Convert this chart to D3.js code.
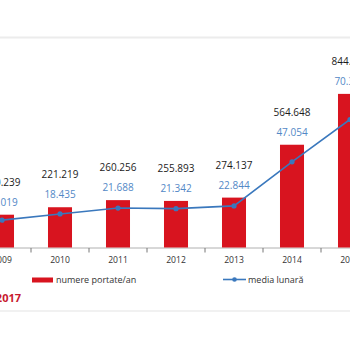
<!DOCTYPE html>
<html>
<head>
<meta charset="utf-8">
<script src="https://cdn.jsdelivr.net/npm/d3@7"></script>
<style>
  html, body { margin: 0; padding: 0; background: #fff; overflow: hidden; }
  svg { display: block; font-family: "Open Sans", sans-serif; }
</style>
</head>
<body>
<div id="chart"></div>
<script>
// dades
const years = ["2009", "2010", "2011", "2012", "2013", "2014", "2015"];
const annualLabels = ["180.239", "221.219", "260.256", "255.893", "274.137", "564.648", "844.033"];
const annualValues = [180.239, 221.219, 260.256, 255.893, 274.137, 564.648, 844.033];
const monthlyLabels = ["15.019", "18.435", "21.688", "21.342", "22.844", "47.054", "70.336"];
const monthlyValues = [15.019, 18.435, 21.688, 21.342, 22.844, 47.054, 70.336];
const legendNames = ["numere portate/an", "media lunară"];
const titleText = "2009-2017";

const data = years.map((y, i) => ({
    year: y,
    annual: annualValues[i],
    annualLabel: annualLabels[i],
    monthly: monthlyValues[i],
    monthlyLabel: monthlyLabels[i]
}));

const W = 350, H = 350;
const baseY = 247.5;

const svg = d3.select("#chart")
    .append("svg")
        .attr("width", W)
        .attr("height", H);

svg.append("rect").attr("width", W).attr("height", H).attr("fill", "#fff");

// linies grises de dalt i de baix
svg.append("line")
    .attr("x1", 0).attr("x2", W).attr("y1", 37.5).attr("y2", 37.5)
    .attr("stroke", "#ececec").attr("stroke-width", 2);
svg.append("line")
    .attr("x1", 0).attr("x2", W).attr("y1", 311).attr("y2", 311)
    .attr("stroke", "#ececec").attr("stroke-width", 1.5);

// escales
const x = d3.scaleBand()
    .domain(years)
    .range([-27, 379])
    .paddingInner(0.586)
    .paddingOuter(0.293);

const y = d3.scaleLinear()
    .domain([0, 1000])
    .range([baseY, baseY - 182]);

const y2 = d3.scaleLinear()
    .domain([0, 100])
    .range([baseY, baseY - 182]);

const cx = d => x(d) + x.bandwidth() / 2;

// eix X
svg.append("line")
    .attr("x1", 0).attr("x2", W).attr("y1", baseY + 0.5).attr("y2", baseY + 0.5)
    .attr("stroke", "#b0b0b0").attr("stroke-width", 1);

svg.selectAll(".tick-mark")
    .data(years)
    .enter()
    .append("line")
        .attr("class", "tick-mark")
        .attr("x1", d => cx(d) + x.step() / 2)
        .attr("x2", d => cx(d) + x.step() / 2)
        .attr("y1", baseY + 0.5)
        .attr("y2", baseY + 5)
        .attr("stroke", "#777")
        .attr("stroke-width", 1);

svg.selectAll(".year-label")
    .data(years)
    .enter()
    .append("text")
        .attr("class", "year-label")
        .attr("x", d => cx(d))
        .attr("y", baseY + 15)
        .attr("text-anchor", "middle")
        .style("font-size", "8.6px")
        .style("fill", "#333")
        .text(d => d);

// barres
svg.selectAll(".bar")
    .data(data)
    .enter()
    .append("rect")
        .attr("class", "bar")
        .attr("x", d => x(d.year))
        .attr("y", d => y(d.annual))
        .attr("width", x.bandwidth())
        .attr("height", d => baseY - y(d.annual))
        .attr("fill", "#d8141f");

// linia mitjana mensual
const line = d3.line()
    .x(d => cx(d.year))
    .y(d => y2(d.monthly));

svg.append("path")
    .datum(data)
    .attr("d", line)
    .attr("fill", "none")
    .attr("stroke", "#3a78bd")
    .attr("stroke-width", 1.6);

svg.selectAll(".dot")
    .data(data)
    .enter()
    .append("circle")
        .attr("class", "dot")
        .attr("cx", d => cx(d.year))
        .attr("cy", d => y2(d.monthly))
        .attr("r", 2.6)
        .attr("fill", "#3a78bd");

// etiquetes
svg.selectAll(".annual-label")
    .data(data)
    .enter()
    .append("text")
        .attr("class", "annual-label")
        .attr("x", d => cx(d.year))
        .attr("y", d => y(d.annual) - 29)
        .attr("text-anchor", "middle")
        .style("font-size", "10px")
        .style("fill", "#1c1c1c")
        .text(d => d.annualLabel);

svg.selectAll(".monthly-label")
    .data(data)
    .enter()
    .append("text")
        .attr("class", "monthly-label")
        .attr("x", d => cx(d.year))
        .attr("y", d => y(d.annual) - 9)
        .attr("text-anchor", "middle")
        .style("font-size", "10px")
        .style("fill", "#5288c6")
        .text(d => d.monthlyLabel);

// llegenda
svg.append("rect")
    .attr("x", 32).attr("y", 277.5)
    .attr("width", 21).attr("height", 5)
    .attr("fill", "#d8141f");
svg.append("text")
    .attr("x", 56).attr("y", 283)
    .style("font-size", "9px")
    .style("fill", "#333")
    .text(legendNames[0]);

svg.append("line")
    .attr("x1", 223).attr("x2", 246).attr("y1", 279.5).attr("y2", 279.5)
    .attr("stroke", "#3a78bd").attr("stroke-width", 1.6);
svg.append("circle")
    .attr("cx", 234.5).attr("cy", 279.5).attr("r", 2.3)
    .attr("fill", "#3a78bd");
svg.append("text")
    .attr("x", 248).attr("y", 283)
    .style("font-size", "9px")
    .style("fill", "#333")
    .text(legendNames[1]);

// titol (retallat a l'esquerra)
svg.append("text")
    .attr("x", 21).attr("y", 302)
    .attr("text-anchor", "end")
    .style("font-size", "11px")
    .style("font-weight", "bold")
    .style("fill", "#c8192e")
    .text(titleText);
</script>
</body>
</html>
